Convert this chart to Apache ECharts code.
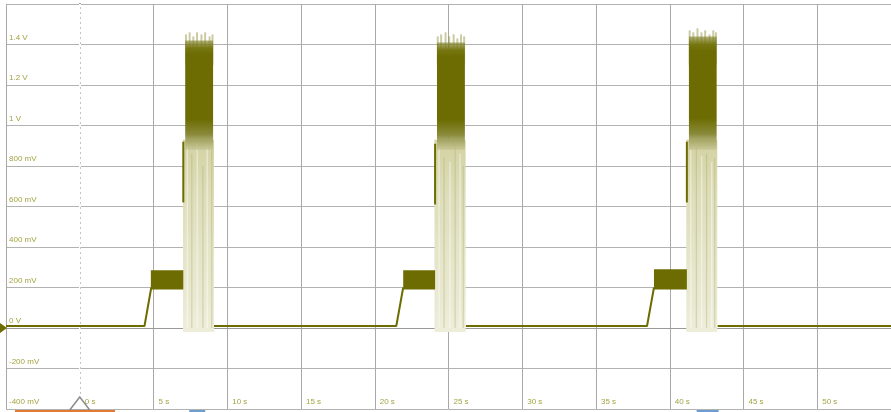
<!DOCTYPE html>
<html>
<head>
<meta charset="utf-8">
<script src="https://cdn.jsdelivr.net/npm/echarts@6/dist/echarts.min.js"></script>
<style>
  html, body { margin: 0; padding: 0; background: #ffffff; }
  #scope { width: 891px; height: 412px; }
</style>
</head>
<body>
<div id="scope"></div>
<script>
// Time axis (s) and voltage axis (V)
const timeTicks = [-5, 0, 5, 10, 15, 20, 25, 30, 35, 40, 45, 50, 55];
const voltTicks = [-0.4, -0.2, 0, 0.2, 0.4, 0.6, 0.8, 1.0, 1.2, 1.4, 1.6];

// Baseline trace with the three ramps up to the plateau (null = pen up)
const traceTime = [-5, 4.39, 4.85, null, 9.1, 21.46, 21.93, null, 26.18, 38.46, 38.93, null, 43.25, 55];
const traceVolt = [0.01, 0.01, 0.2, null, 0.01, 0.01, 0.2, null, 0.01, 0.01, 0.2, null, 0.01, 0.01];

// Plateau before each burst: start, end, min, max
const plateauStart = [4.82, 21.93, 38.93];
const plateauEnd   = [7.02, 24.09, 41.16];
const plateauMin   = [0.19, 0.19, 0.19];
const plateauMax   = [0.285, 0.285, 0.29];

// Burst envelope: faint full swing and dense upper core
const burstStart = [7.0, 24.05, 41.12];
const burstEnd   = [9.1, 26.16, 43.22];
const burstFloor = [-0.02, -0.02, -0.02];
const coreStart  = [7.15, 24.22, 41.3];
const coreEnd    = [9.04, 26.11, 43.18];
const coreLow    = [0.88, 0.88, 0.88];
const corePeak   = [1.42, 1.41, 1.44];

// Individual peaks poking above the dense core
const tipTime = [7.2, 7.45, 7.7, 7.95, 8.25, 8.5, 8.8, 9.0,
                 24.27, 24.5, 24.8, 25.05, 25.35, 25.6, 25.85, 26.06,
                 41.35, 41.6, 41.88, 42.15, 42.4, 42.7, 42.95, 43.13];
const tipPeak = [1.45, 1.46, 1.44, 1.46, 1.45, 1.46, 1.44, 1.45,
                 1.44, 1.45, 1.46, 1.44, 1.45, 1.43, 1.45, 1.44,
                 1.47, 1.46, 1.48, 1.46, 1.47, 1.45, 1.47, 1.46];

// Leading edge stroke at each burst onset
const edgeTime = [7.02, 24.09, 41.16];
const edgeLow  = [0.62, 0.61, 0.62];
const edgeHigh = [0.92, 0.91, 0.92];

// Brighter streaks inside the faint swing
const streakTime = [7.29, 7.96, 8.64,
                    24.36, 25.10, 25.78,
                    41.43, 42.17, 42.85];
const streakTop  = [0.9, 0.92, 0.9,
                    0.9, 0.82, 0.86,
                    0.88, 0.85, 0.82];

// Darker streaks inside the faint swing
const shadeTime = [7.6, 8.35, 8.95,
                   24.7, 25.45, 26.0,
                   41.8, 42.5, 43.05];
const shadeTop  = [0.86, 0.8, 0.88,
                   0.84, 0.9, 0.8,
                   0.9, 0.86, 0.84];

const olive = '#6c6c02';
const labelColor = '#a3a345';

function voltLabel(v) {
  const r = Math.round(v * 1000);
  if (r === 0) return '0 V';
  if (Math.abs(r) >= 1000) return (r / 1000) + ' V';
  return r + ' mV';
}

const tracePoints = traceTime.map((t, i) => (t === null ? [null, null] : [t, traceVolt[i]]));
const plateauData = plateauStart.map((s, i) => [s, plateauEnd[i], plateauMin[i], plateauMax[i]]);
const burstData = burstStart.map((s, i) => [s, burstEnd[i], burstFloor[i], coreLow[i] + 0.05]);
const coreData = coreStart.map((s, i) => [s, coreEnd[i], coreLow[i], corePeak[i]]);
const tipData = tipTime.map((t, i) => [t, t, 1.3, tipPeak[i]]);
const edgeData = edgeTime.map((t, i) => [t, t, edgeLow[i], edgeHigh[i]]);
const streakData = streakTime.map((t, i) => [t, t, 0, streakTop[i]]);
const shadeData = shadeTime.map((t, i) => [t, t, 0, shadeTop[i]]);

function rectItem(fill) {
  return function (params, api) {
    const p0 = api.coord([api.value(0), api.value(3)]);
    const p1 = api.coord([api.value(1), api.value(2)]);
    return {
      type: 'rect',
      shape: { x: p0[0], y: p0[1], width: Math.max(p1[0] - p0[0], 1), height: p1[1] - p0[1] },
      style: { fill: fill }
    };
  };
}

function lineItem(color, width) {
  return function (params, api) {
    const p0 = api.coord([api.value(0), api.value(3)]);
    const p1 = api.coord([api.value(1), api.value(2)]);
    return {
      type: 'line',
      shape: { x1: p0[0], y1: p0[1], x2: p1[0], y2: p1[1] },
      style: { stroke: color, lineWidth: width }
    };
  };
}

const chart = echarts.init(document.getElementById('scope'), null, { renderer: 'canvas' });

chart.setOption({
  animation: false,
  backgroundColor: '#ffffff',
  grid: { left: 6, right: -4, top: 4, bottom: 3 },
  xAxis: {
    type: 'value',
    min: timeTicks[0],
    max: timeTicks[timeTicks.length - 1],
    interval: 5,
    axisLine: { show: true, lineStyle: { color: '#9a9a9a', width: 1 } },
    axisTick: { show: false },
    splitLine: { show: true, lineStyle: { color: '#a9a9a9', width: 1 } },
    axisLabel: {
      inside: true,
      showMinLabel: false,
      showMaxLabel: false,
      color: labelColor,
      fontSize: 8,
      fontFamily: 'Liberation Sans, Arial, sans-serif',
      align: 'left',
      verticalAlign: 'bottom',
      margin: 3,
      padding: [0, 0, 0, 5],
      formatter: v => v + ' s'
    }
  },
  yAxis: {
    type: 'value',
    min: voltTicks[0],
    max: voltTicks[voltTicks.length - 1],
    interval: 0.2,
    axisLine: { show: true, lineStyle: { color: '#7d7d7d', width: 2 } },
    axisTick: { show: false },
    splitLine: { show: true, lineStyle: { color: '#b2b2b2', width: 1 } },
    axisLabel: {
      inside: true,
      showMaxLabel: false,
      color: labelColor,
      fontSize: 8,
      fontFamily: 'Liberation Sans, Arial, sans-serif',
      align: 'left',
      verticalAlign: 'bottom',
      margin: 3,
      padding: [0, 0, 3, 0],
      formatter: voltLabel
    }
  },
  series: [
    {
      name: 'centre',
      type: 'line',
      data: [],
      markLine: {
        silent: true,
        symbol: 'none',
        label: { show: false },
        data: [
          { xAxis: 0, lineStyle: { color: '#ffffff', width: 2, type: 'solid' } },
          { xAxis: 0, lineStyle: { color: '#c4c4c4', width: 1, type: [2, 3] } }
        ]
      },
      z: 1
    },
    {
      name: 'swing',
      type: 'custom',
      renderItem: rectItem({
        type: 'linear', x: 0, y: 0, x2: 0, y2: 1,
        colorStops: [
          { offset: 0, color: '#d2d2a2' },
          { offset: 0.3, color: '#dedebb' },
          { offset: 1, color: '#ededda' }
        ]
      }),
      data: burstData,
      z: 2
    },
    {
      name: 'streaks',
      type: 'custom',
      renderItem: lineItem('rgba(255,255,255,0.6)', 1),
      data: streakData,
      z: 3
    },
    {
      name: 'shades',
      type: 'custom',
      renderItem: lineItem('rgba(170,170,110,0.45)', 1),
      data: shadeData,
      z: 3
    },
    {
      name: 'tips',
      type: 'custom',
      renderItem: lineItem('rgba(140,140,50,0.45)', 2),
      data: tipData,
      z: 4
    },
    {
      name: 'core',
      type: 'custom',
      renderItem: rectItem({
        type: 'linear', x: 0, y: 0, x2: 0, y2: 1,
        colorStops: [
          { offset: 0, color: 'rgba(130,130,45,0.6)' },
          { offset: 0.07, color: '#777712' },
          { offset: 0.13, color: olive },
          { offset: 0.72, color: olive },
          { offset: 0.86, color: '#8a8a3a' },
          { offset: 1, color: 'rgba(195,195,145,0.7)' }
        ]
      }),
      data: coreData,
      z: 4
    },
    {
      name: 'edge',
      type: 'custom',
      renderItem: lineItem(olive, 2),
      data: edgeData,
      z: 5
    },
    {
      name: 'plateau',
      type: 'custom',
      renderItem: rectItem(olive),
      data: plateauData,
      z: 5
    },
    {
      name: 'trace',
      type: 'line',
      data: tracePoints,
      showSymbol: false,
      connectNulls: false,
      lineStyle: { color: olive, width: 2 },
      z: 6
    }
  ]
});

// Screen decorations placed from axis positions
const zeroV = chart.convertToPixel({ gridIndex: 0 }, [0, 0]);
const bottom = chart.convertToPixel({ gridIndex: 0 }, [0, -0.4]);
const b1 = chart.convertToPixel({ gridIndex: 0 }, [coreStart[0], 0]);
const b3 = chart.convertToPixel({ gridIndex: 0 }, [coreEnd[2], 0]);
const by = 411;
chart.setOption({
  graphic: [
    {
      type: 'polygon',
      shape: { points: [[0, zeroV[1] - 5], [7, zeroV[1]], [0, zeroV[1] + 5]] },
      style: { fill: olive },
      z: 100
    },
    {
      type: 'polygon',
      shape: { points: [[zeroV[0] - 10, bottom[1] + 1], [zeroV[0], bottom[1] - 12], [zeroV[0] + 10, bottom[1] + 1]] },
      style: { fill: '#ffffff', stroke: '#8c8c8c', lineWidth: 1.5 },
      z: 100
    },
    {
      type: 'line',
      shape: { x1: 15, y1: by, x2: 115, y2: by },
      style: { stroke: '#e37a34', lineWidth: 2 },
      z: 100
    },
    {
      type: 'line',
      shape: { x1: b1[0] + 4, y1: by, x2: b1[0] + 20, y2: by },
      style: { stroke: '#6d9ed0', lineWidth: 2 },
      z: 100
    },
    {
      type: 'line',
      shape: { x1: b3[0] - 20, y1: by, x2: b3[0] + 2, y2: by },
      style: { stroke: '#6d9ed0', lineWidth: 2 },
      z: 100
    }
  ]
});
</script>
</body>
</html>
